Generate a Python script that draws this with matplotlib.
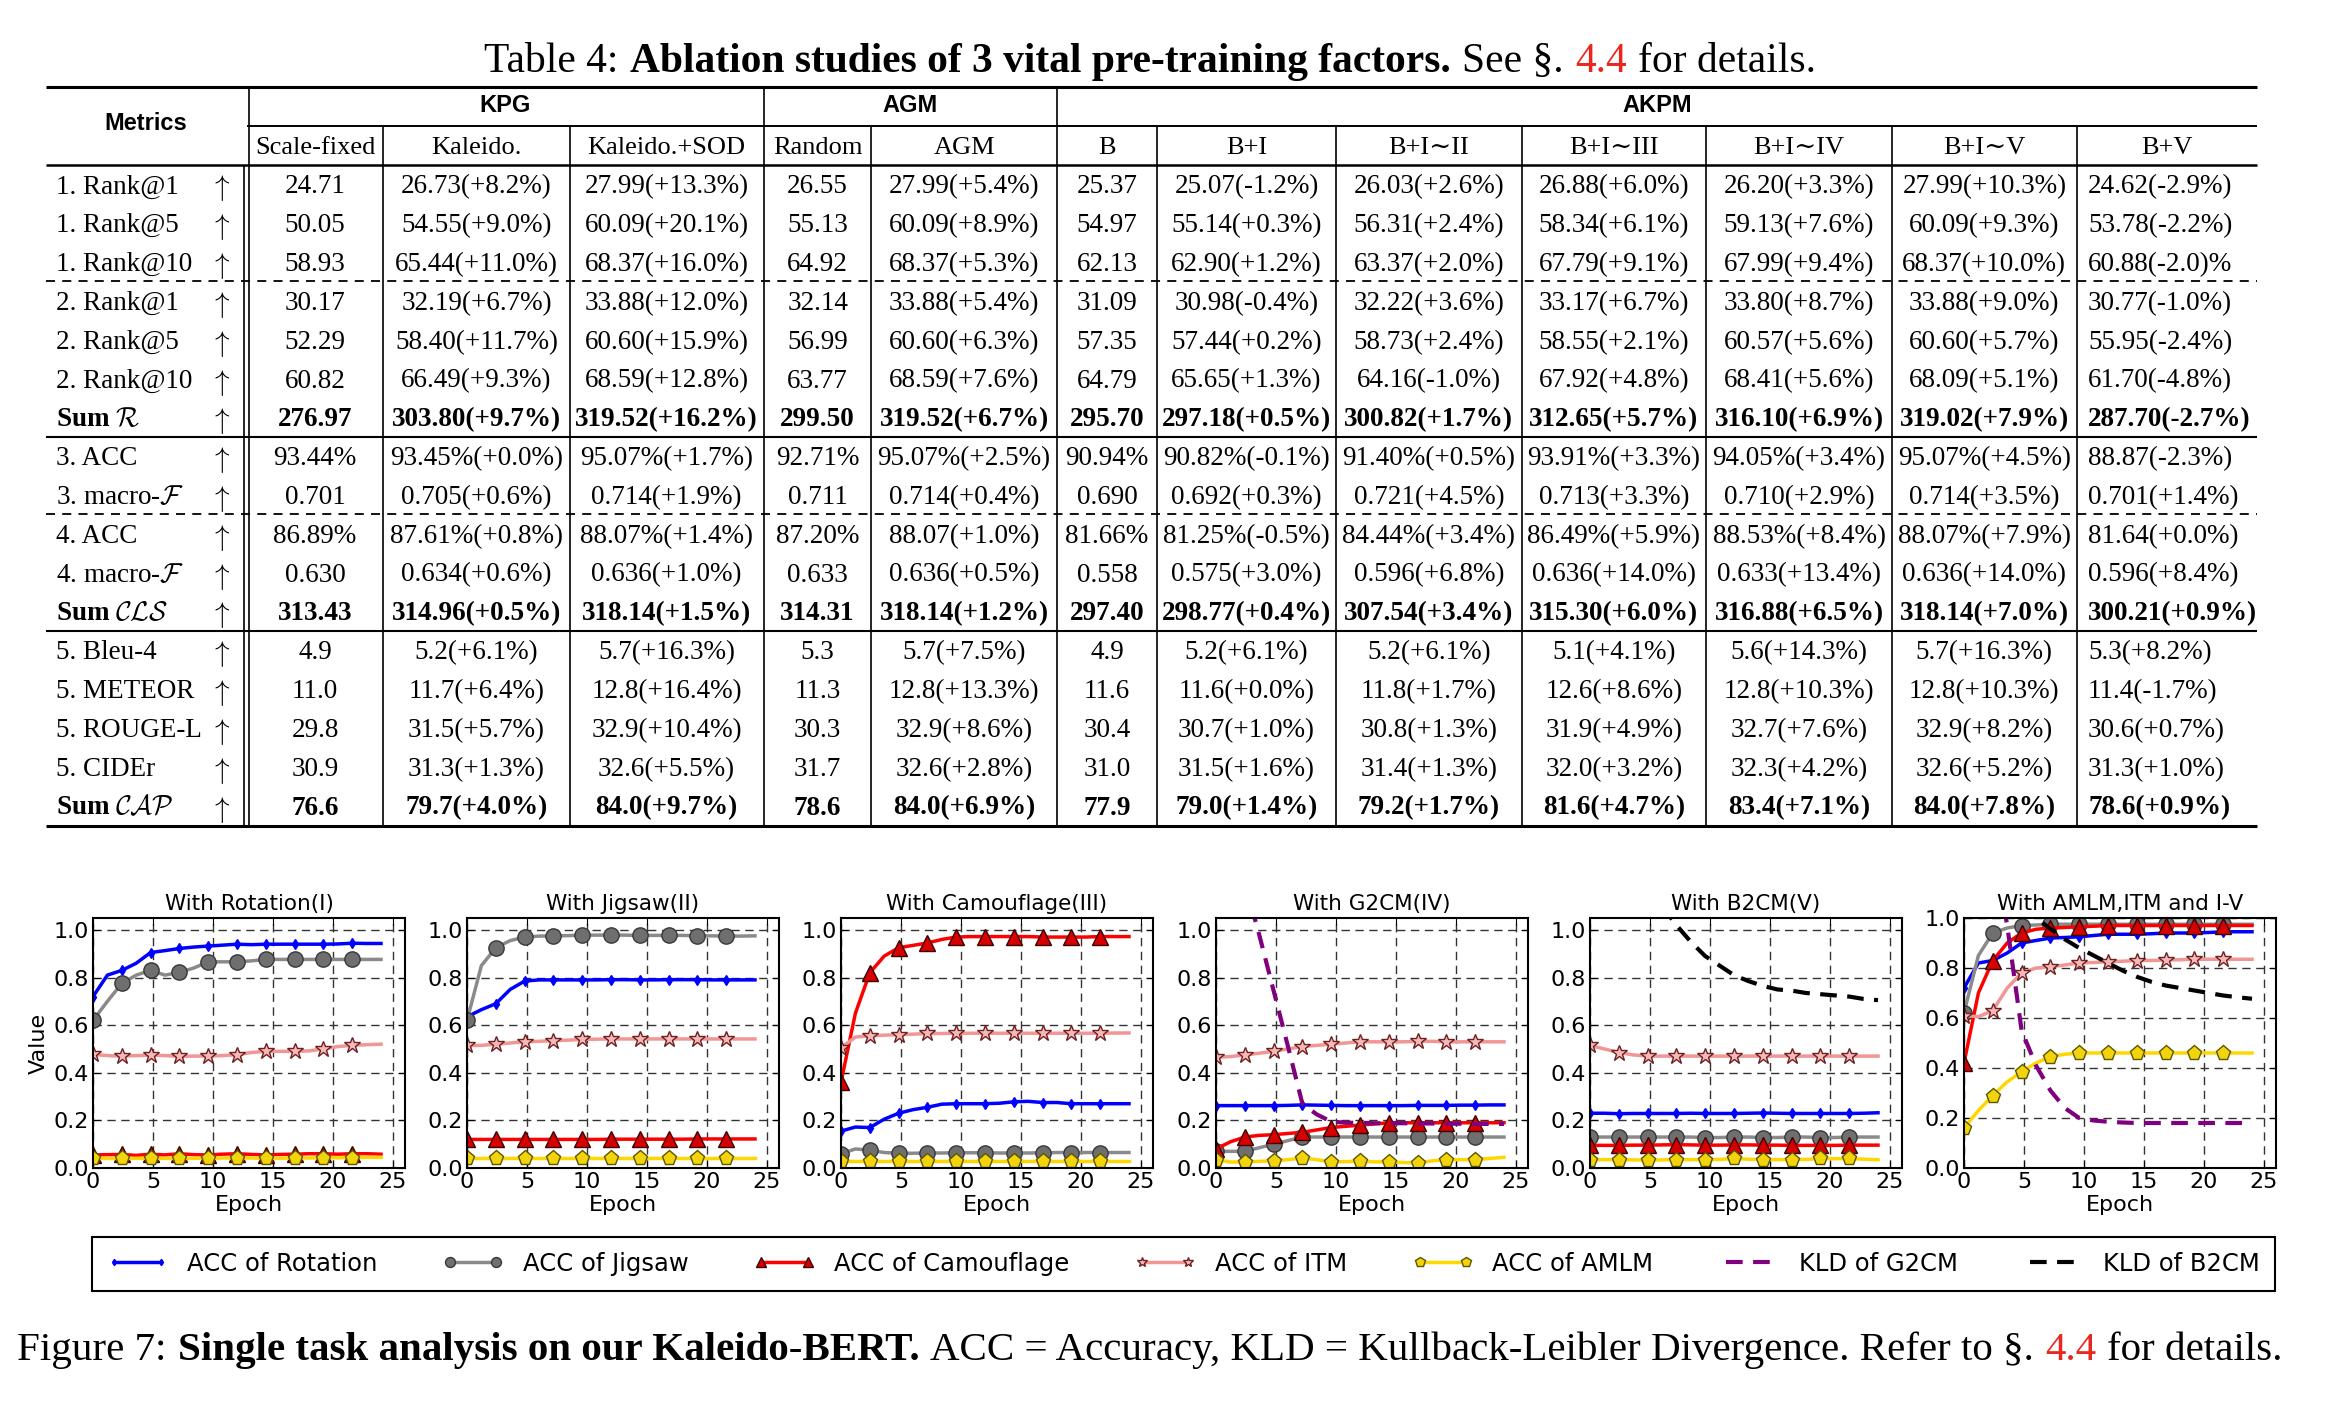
import numpy as np
import matplotlib
matplotlib.use("Agg")
import matplotlib.pyplot as plt
from matplotlib.lines import Line2D

plt.rcParams["mathtext.fontset"] = "cm"

W, H = 2332, 1412
SERIF = ["Liberation Serif", "DejaVu Serif"]
SANS = ["Liberation Sans", "DejaVu Sans"]
RED_REF = "#e8281e"

# ---------------- table data ----------------
group_names = ["KPG", "AGM", "AKPM"]
group_spans = [3, 2, 7]
sub_headers = ["Scale-fixed", "Kaleido.", "Kaleido.+SOD", "Random", "AGM", "B", "B+I",
               "B+I∼II", "B+I∼III", "B+I∼IV", "B+I∼V", "B+V"]
row_labels = ["1. Rank@1", "1. Rank@5", "1. Rank@10", "2. Rank@1", "2. Rank@5", "2. Rank@10",
              r"Sum $\mathcal{R}$", "3. ACC", r"3. macro-$\mathcal{F}$", "4. ACC",
              r"4. macro-$\mathcal{F}$", r"Sum $\mathcal{CLS}$", "5. Bleu-4", "5. METEOR",
              "5. ROUGE-L", "5. CIDEr", r"Sum $\mathcal{CAP}$"]
bold_rows = [6, 11, 16]

r1_rank1 = ["24.71", "26.73(+8.2%)", "27.99(+13.3%)", "26.55", "27.99(+5.4%)", "25.37", "25.07(-1.2%)",
            "26.03(+2.6%)", "26.88(+6.0%)", "26.20(+3.3%)", "27.99(+10.3%)", "24.62(-2.9%)"]
r1_rank5 = ["50.05", "54.55(+9.0%)", "60.09(+20.1%)", "55.13", "60.09(+8.9%)", "54.97", "55.14(+0.3%)",
            "56.31(+2.4%)", "58.34(+6.1%)", "59.13(+7.6%)", "60.09(+9.3%)", "53.78(-2.2%)"]
r1_rank10 = ["58.93", "65.44(+11.0%)", "68.37(+16.0%)", "64.92", "68.37(+5.3%)", "62.13", "62.90(+1.2%)",
             "63.37(+2.0%)", "67.79(+9.1%)", "67.99(+9.4%)", "68.37(+10.0%)", "60.88(-2.0)%"]
r2_rank1 = ["30.17", "32.19(+6.7%)", "33.88(+12.0%)", "32.14", "33.88(+5.4%)", "31.09", "30.98(-0.4%)",
            "32.22(+3.6%)", "33.17(+6.7%)", "33.80(+8.7%)", "33.88(+9.0%)", "30.77(-1.0%)"]
r2_rank5 = ["52.29", "58.40(+11.7%)", "60.60(+15.9%)", "56.99", "60.60(+6.3%)", "57.35", "57.44(+0.2%)",
            "58.73(+2.4%)", "58.55(+2.1%)", "60.57(+5.6%)", "60.60(+5.7%)", "55.95(-2.4%)"]
r2_rank10 = ["60.82", "66.49(+9.3%)", "68.59(+12.8%)", "63.77", "68.59(+7.6%)", "64.79", "65.65(+1.3%)",
             "64.16(-1.0%)", "67.92(+4.8%)", "68.41(+5.6%)", "68.09(+5.1%)", "61.70(-4.8%)"]
sum_r = ["276.97", "303.80(+9.7%)", "319.52(+16.2%)", "299.50", "319.52(+6.7%)", "295.70", "297.18(+0.5%)",
         "300.82(+1.7%)", "312.65(+5.7%)", "316.10(+6.9%)", "319.02(+7.9%)", "287.70(-2.7%)"]
acc3 = ["93.44%", "93.45%(+0.0%)", "95.07%(+1.7%)", "92.71%", "95.07%(+2.5%)", "90.94%", "90.82%(-0.1%)",
        "91.40%(+0.5%)", "93.91%(+3.3%)", "94.05%(+3.4%)", "95.07%(+4.5%)", "88.87(-2.3%)"]
f3 = ["0.701", "0.705(+0.6%)", "0.714(+1.9%)", "0.711", "0.714(+0.4%)", "0.690", "0.692(+0.3%)",
      "0.721(+4.5%)", "0.713(+3.3%)", "0.710(+2.9%)", "0.714(+3.5%)", "0.701(+1.4%)"]
acc4 = ["86.89%", "87.61%(+0.8%)", "88.07%(+1.4%)", "87.20%", "88.07(+1.0%)", "81.66%", "81.25%(-0.5%)",
        "84.44%(+3.4%)", "86.49%(+5.9%)", "88.53%(+8.4%)", "88.07%(+7.9%)", "81.64(+0.0%)"]
f4 = ["0.630", "0.634(+0.6%)", "0.636(+1.0%)", "0.633", "0.636(+0.5%)", "0.558", "0.575(+3.0%)",
      "0.596(+6.8%)", "0.636(+14.0%)", "0.633(+13.4%)", "0.636(+14.0%)", "0.596(+8.4%)"]
sum_cls = ["313.43", "314.96(+0.5%)", "318.14(+1.5%)", "314.31", "318.14(+1.2%)", "297.40", "298.77(+0.4%)",
           "307.54(+3.4%)", "315.30(+6.0%)", "316.88(+6.5%)", "318.14(+7.0%)", "300.21(+0.9%)"]
bleu = ["4.9", "5.2(+6.1%)", "5.7(+16.3%)", "5.3", "5.7(+7.5%)", "4.9", "5.2(+6.1%)",
        "5.2(+6.1%)", "5.1(+4.1%)", "5.6(+14.3%)", "5.7(+16.3%)", "5.3(+8.2%)"]
meteor = ["11.0", "11.7(+6.4%)", "12.8(+16.4%)", "11.3", "12.8(+13.3%)", "11.6", "11.6(+0.0%)",
          "11.8(+1.7%)", "12.6(+8.6%)", "12.8(+10.3%)", "12.8(+10.3%)", "11.4(-1.7%)"]
rouge = ["29.8", "31.5(+5.7%)", "32.9(+10.4%)", "30.3", "32.9(+8.6%)", "30.4", "30.7(+1.0%)",
         "30.8(+1.3%)", "31.9(+4.9%)", "32.7(+7.6%)", "32.9(+8.2%)", "30.6(+0.7%)"]
cider = ["30.9", "31.3(+1.3%)", "32.6(+5.5%)", "31.7", "32.6(+2.8%)", "31.0", "31.5(+1.6%)",
         "31.4(+1.3%)", "32.0(+3.2%)", "32.3(+4.2%)", "32.6(+5.2%)", "31.3(+1.0%)"]
sum_cap = ["76.6", "79.7(+4.0%)", "84.0(+9.7%)", "78.6", "84.0(+6.9%)", "77.9", "79.0(+1.4%)",
           "79.2(+1.7%)", "81.6(+4.7%)", "83.4(+7.1%)", "84.0(+7.8%)", "78.6(+0.9%)"]
table_rows = [r1_rank1, r1_rank5, r1_rank10, r2_rank1, r2_rank5, r2_rank10, sum_r,
              acc3, f3, acc4, f4, sum_cls, bleu, meteor, rouge, cider, sum_cap]

# ---------------- curve data ----------------
epochs = [0.0, 1.2, 2.4, 3.6, 4.8, 6.0, 7.2, 8.4, 9.6, 10.8, 12.0, 13.2, 14.4, 15.6, 16.8,
          18.0, 19.2, 20.4, 21.6, 22.8, 24.0]
nan = np.nan

p1_rot = [0.72, 0.81, 0.83, 0.86, 0.905, 0.913, 0.922, 0.928, 0.932, 0.936, 0.940, 0.938, 0.940, 0.940,
          0.940, 0.940, 0.940, 0.941, 0.944, 0.943, 0.943]
p1_jig = [0.62, 0.70, 0.775, 0.81, 0.83, 0.81, 0.822, 0.84, 0.866, 0.866, 0.866, 0.870, 0.876, 0.876,
          0.876, 0.876, 0.876, 0.876, 0.876, 0.876, 0.876]
p1_cam = [0.055, 0.056, 0.057, 0.053, 0.058, 0.055, 0.060, 0.056, 0.055, 0.058, 0.060, 0.057, 0.055,
          0.057, 0.058, 0.060, 0.060, 0.058, 0.060, 0.060, 0.058]
p1_itm = [0.477, 0.472, 0.470, 0.472, 0.474, 0.472, 0.469, 0.470, 0.470, 0.472, 0.476, 0.485, 0.490,
          0.490, 0.490, 0.492, 0.500, 0.510, 0.515, 0.518, 0.520]
p1_aml = [0.040, 0.040, 0.040, 0.041, 0.040, 0.040, 0.040, 0.041, 0.040, 0.042, 0.042, 0.042, 0.040,
          0.041, 0.042, 0.042, 0.043, 0.043, 0.044, 0.045, 0.045]

p2_rot = [0.635, 0.665, 0.69, 0.75, 0.785, 0.79, 0.79, 0.79, 0.79, 0.79, 0.791, 0.791, 0.79, 0.79,
          0.791, 0.791, 0.791, 0.79, 0.79, 0.79, 0.79]
p2_jig = [0.62, 0.85, 0.925, 0.955, 0.970, 0.974, 0.975, 0.976, 0.978, 0.978, 0.978, 0.978, 0.977,
          0.977, 0.977, 0.977, 0.975, 0.975, 0.974, 0.974, 0.975]
p2_cam = [0.120, 0.120, 0.120, 0.120, 0.120, 0.120, 0.120, 0.120, 0.120, 0.120, 0.121, 0.121, 0.121,
          0.121, 0.121, 0.121, 0.122, 0.122, 0.122, 0.122, 0.122]
p2_itm = [0.515, 0.515, 0.520, 0.525, 0.530, 0.532, 0.535, 0.537, 0.540, 0.541, 0.542, 0.542, 0.542,
          0.542, 0.542, 0.542, 0.542, 0.542, 0.542, 0.542, 0.542]
p2_aml = [0.040, 0.040, 0.040, 0.040, 0.040, 0.040, 0.040, 0.040, 0.040, 0.040, 0.040, 0.040, 0.040,
          0.040, 0.040, 0.040, 0.040, 0.040, 0.040, 0.040, 0.040]

p3_rot = [0.155, 0.172, 0.170, 0.205, 0.230, 0.245, 0.255, 0.268, 0.270, 0.270, 0.270, 0.272, 0.278,
          0.280, 0.275, 0.275, 0.270, 0.270, 0.270, 0.270, 0.270]
p3_jig = [0.060, 0.080, 0.075, 0.065, 0.062, 0.062, 0.063, 0.063, 0.064, 0.064, 0.064, 0.063, 0.063,
          0.063, 0.064, 0.065, 0.065, 0.065, 0.065, 0.065, 0.065]
p3_cam = [0.36, 0.65, 0.82, 0.89, 0.925, 0.935, 0.945, 0.960, 0.970, 0.972, 0.972, 0.972, 0.972,
          0.972, 0.970, 0.970, 0.970, 0.970, 0.972, 0.972, 0.972]
p3_itm = [0.505, 0.550, 0.555, 0.558, 0.560, 0.562, 0.565, 0.565, 0.566, 0.566, 0.566, 0.566, 0.566,
          0.566, 0.566, 0.566, 0.566, 0.566, 0.566, 0.567, 0.567]
p3_aml = [0.028, 0.028, 0.028, 0.028, 0.028, 0.028, 0.028, 0.028, 0.028, 0.028, 0.028, 0.028, 0.028,
          0.028, 0.028, 0.028, 0.028, 0.028, 0.028, 0.028, 0.028]

p4_rot = [0.262, 0.262, 0.262, 0.262, 0.262, 0.263, 0.265, 0.264, 0.263, 0.262, 0.262, 0.262, 0.262,
          0.262, 0.263, 0.263, 0.263, 0.264, 0.264, 0.265, 0.265]
p4_jig = [0.070, 0.070, 0.070, 0.085, 0.100, 0.115, 0.130, 0.130, 0.130, 0.130, 0.130, 0.130, 0.130,
          0.130, 0.130, 0.130, 0.130, 0.130, 0.130, 0.130, 0.130]
p4_cam = [0.080, 0.110, 0.130, 0.137, 0.140, 0.145, 0.150, 0.160, 0.170, 0.175, 0.180, 0.185, 0.190,
          0.190, 0.190, 0.190, 0.190, 0.190, 0.190, 0.190, 0.190]
p4_itm = [0.465, 0.468, 0.475, 0.482, 0.490, 0.500, 0.510, 0.515, 0.520, 0.525, 0.530, 0.530, 0.530,
          0.530, 0.532, 0.532, 0.530, 0.530, 0.530, 0.530, 0.530]
p4_aml = [0.035, 0.025, 0.025, 0.028, 0.030, 0.035, 0.042, 0.035, 0.025, 0.027, 0.028, 0.026, 0.025,
          0.023, 0.020, 0.030, 0.035, 0.035, 0.035, 0.040, 0.045]
p4_g2cm = [1.65, 1.42, 1.20, 0.98, 0.745, 0.51, 0.27, 0.225, 0.195, 0.190, 0.190, 0.188, 0.188,
           0.188, 0.187, 0.187, 0.186, 0.186, 0.185, 0.185, 0.185]

p5_rot = [0.230, 0.230, 0.228, 0.229, 0.229, 0.229, 0.229, 0.230, 0.229, 0.229, 0.229, 0.230, 0.231,
          0.230, 0.229, 0.229, 0.229, 0.229, 0.229, 0.230, 0.232]
p5_jig = [0.130, 0.130, 0.130, 0.130, 0.130, 0.130, 0.130, 0.130, 0.128, 0.128, 0.130, 0.130, 0.128,
          0.128, 0.130, 0.130, 0.128, 0.128, 0.130, 0.130, 0.130]
p5_cam = [0.095, 0.095, 0.095, 0.096, 0.096, 0.097, 0.098, 0.097, 0.096, 0.096, 0.097, 0.097, 0.096,
          0.096, 0.095, 0.095, 0.095, 0.095, 0.096, 0.096, 0.096]
p5_itm = [0.515, 0.500, 0.485, 0.475, 0.470, 0.470, 0.470, 0.470, 0.470, 0.470, 0.470, 0.470, 0.470,
          0.470, 0.470, 0.470, 0.470, 0.470, 0.470, 0.470, 0.470]
p5_aml = [0.035, 0.035, 0.035, 0.034, 0.033, 0.034, 0.035, 0.035, 0.035, 0.036, 0.040, 0.037, 0.035,
          0.035, 0.035, 0.036, 0.040, 0.039, 0.040, 0.037, 0.035]
p5_b2cm = [nan, nan, nan, nan, nan, 1.10, 1.02, 0.95, 0.89, 0.85, 0.81, 0.785, 0.765, 0.75, 0.745,
           0.735, 0.73, 0.725, 0.72, 0.71, 0.705]

p6_rot = [0.72, 0.82, 0.83, 0.86, 0.90, 0.91, 0.92, 0.922, 0.925, 0.93, 0.935, 0.935, 0.935, 0.937,
          0.94, 0.94, 0.94, 0.942, 0.945, 0.945, 0.945]
p6_jig = [0.62, 0.85, 0.94, 0.96, 0.97, 0.972, 0.975, 0.975, 0.975, 0.975, 0.975, 0.975, 0.975, 0.975,
          0.975, 0.975, 0.975, 0.975, 0.975, 0.975, 0.975]
p6_cam = [0.42, 0.70, 0.83, 0.90, 0.94, 0.955, 0.96, 0.962, 0.965, 0.967, 0.97, 0.97, 0.97, 0.97,
          0.97, 0.97, 0.97, 0.97, 0.97, 0.97, 0.97]
p6_itm = [0.61, 0.605, 0.63, 0.72, 0.78, 0.80, 0.805, 0.812, 0.82, 0.822, 0.825, 0.827, 0.83, 0.83,
          0.832, 0.833, 0.835, 0.835, 0.835, 0.835, 0.835]
p6_aml = [0.16, 0.23, 0.29, 0.345, 0.385, 0.42, 0.445, 0.455, 0.46, 0.46, 0.46, 0.46, 0.46, 0.46,
          0.46, 0.46, 0.46, 0.46, 0.46, 0.46, 0.46]
p6_g2cm = [1.90, 1.60, 1.30, 0.97, 0.55, 0.41, 0.31, 0.24, 0.20, 0.19, 0.185, 0.182, 0.18, 0.18,
           0.18, 0.18, 0.18, 0.18, 0.18, 0.18, 0.18]
p6_b2cm = [nan, nan, nan, nan, 1.05, 1.00, 0.957, 0.915, 0.88, 0.85, 0.82, 0.79, 0.765, 0.745, 0.73,
           0.72, 0.71, 0.70, 0.69, 0.683, 0.677]

panel_titles = ["With Rotation(I)", "With Jigsaw(II)", "With Camouflage(III)", "With G2CM(IV)",
                "With B2CM(V)", "With AMLM,ITM and I-V"]
panels = [
    {"rot": p1_rot, "jig": p1_jig, "cam": p1_cam, "itm": p1_itm, "aml": p1_aml},
    {"rot": p2_rot, "jig": p2_jig, "cam": p2_cam, "itm": p2_itm, "aml": p2_aml},
    {"rot": p3_rot, "jig": p3_jig, "cam": p3_cam, "itm": p3_itm, "aml": p3_aml},
    {"rot": p4_rot, "jig": p4_jig, "cam": p4_cam, "itm": p4_itm, "aml": p4_aml, "g2cm": p4_g2cm},
    {"rot": p5_rot, "jig": p5_jig, "cam": p5_cam, "itm": p5_itm, "aml": p5_aml, "b2cm": p5_b2cm},
    {"rot": p6_rot, "jig": p6_jig, "cam": p6_cam, "itm": p6_itm, "aml": p6_aml, "g2cm": p6_g2cm,
     "b2cm": p6_b2cm},
]
series_order = ["rot", "jig", "cam", "itm", "aml", "g2cm", "b2cm"]
series_labels = {"rot": "ACC of Rotation", "jig": "ACC of Jigsaw", "cam": "ACC of Camouflage",
                 "itm": "ACC of ITM", "aml": "ACC of AMLM", "g2cm": "KLD of G2CM", "b2cm": "KLD of B2CM"}

styles = {
    "rot": dict(color="#0000ff", lw=2.5, marker="d", ms=5, mfc="#0000ff", mec="#0000ff"),
    "jig": dict(color="#8a8a8a", lw=2.5, marker="o", ms=11, mfc="#6f6f6f", mec="#383838"),
    "cam": dict(color="#ff0000", lw=2.5, marker="^", ms=11, mfc="#d60000", mec="#3a0000"),
    "itm": dict(color="#f19595", lw=2.5, marker="*", ms=12, mfc="#f6b8b8", mec="#6e2020", mew=1),
    "aml": dict(color="#ffd700", lw=2.5, marker="p", ms=11, mfc="#f2d40c", mec="#5c5600"),
    "g2cm": dict(color="#800080", lw=3, ls=(0, (4, 2.5))),
    "b2cm": dict(color="black", lw=3, ls=(0, (4, 2.5))),
}

# ---------------- figure ----------------
fig = plt.figure(figsize=(W / 100, H / 100), dpi=100)
cv = fig.add_axes([0, 0, 1, 1])
cv.set_xlim(0, W)
cv.set_ylim(H, 0)
cv.axis("off")
renderer = fig.canvas.get_renderer()


def rich_line(pieces, cx, base_y, target_w, size0):
    # pieces: (text, weight, colour); spaces between pieces added explicitly
    arts = [cv.text(0, base_y, s, fontsize=size0, fontweight=wt, color=c, family=SERIF,
                    va="baseline", ha="left") for s, wt, c in pieces]

    def widths(sz):
        return [a.get_window_extent(renderer).width for a in arts], 0.27 * sz * 100 / 72

    ws, sp = widths(size0)
    size = size0 * target_w / (sum(ws) + sp * (len(arts) - 1))
    for a in arts:
        a.set_fontsize(size)
    ws, sp = widths(size)
    x = cx - (sum(ws) + sp * (len(arts) - 1)) / 2
    for a, w_ in zip(arts, ws):
        a.set_x(x)
        x += w_ + sp


# table caption
rich_line([("Table 4:", "normal", "black"),
           ("Ablation studies of 3 vital pre-training factors.", "bold", "black"),
           ("See §.", "normal", "black"), ("4.4", "normal", RED_REF),
           ("for details.", "normal", "black")], 1150, 72, 1334, 26)

# table geometry (pixels)
bounds = [246.5, 383.4, 569.5, 763.8, 871.4, 1056.8, 1157, 1336, 1521.7, 1706.3, 1891.7, 2077, 2257]
t_left, t_right = 46, 2257
y_top, y_grp, y_head, y_bot = 87, 126, 165, 826
row0, row_step = 184.4, 38.82
row_y = [row0 + row_step * i for i in range(len(row_labels))]

cv.hlines([y_top, y_bot], t_left, t_right, color="black", lw=2.2)
cv.hlines(y_head, t_left, t_right, color="black", lw=1.8)
cv.hlines(y_grp, bounds[0], t_right, color="black", lw=1.4)
for i in (6, 11):
    cv.hlines((row_y[i] + row_y[i + 1]) / 2, t_left, t_right, color="black", lw=1.5)
for i in (2, 8):
    cv.hlines((row_y[i] + row_y[i + 1]) / 2, t_left, t_right, color="black", lw=1.3,
              linestyles=(0, (5, 4)))
cv.vlines([bounds[0] + 2, bounds[3], bounds[5]], y_top, y_bot, color="black", lw=1.2)
cv.vlines([bounds[0] - 3], y_head, y_bot, color="black", lw=1.2)
cv.vlines([bounds[j] for j in (1, 2, 4, 6, 7, 8, 9, 10, 11)], y_grp, y_bot, color="black", lw=1.2)

cv.text((t_left + bounds[0]) / 2, 124, "Metrics", family=SANS, fontweight="bold", fontsize=17,
        ha="center", va="center")
start = 0
for name, span in zip(group_names, group_spans):
    cv.text((bounds[start] + bounds[start + span]) / 2, 106, name, family=SANS, fontweight="bold",
            fontsize=17, ha="center", va="center")
    start += span
centers = [(bounds[j] + bounds[j + 1]) / 2 for j in range(12)]
for j, lab in enumerate(sub_headers):
    cv.text(centers[j], 145 + 9, lab, family=SERIF, fontsize=19, ha="center", va="baseline")

for i, (lab, vals) in enumerate(zip(row_labels, table_rows)):
    wt = "bold" if i in bold_rows else "normal"
    yb = row_y[i] + 9
    cv.text(56, yb, lab, family=SERIF, fontsize=19.5, fontweight=wt, ha="left", va="baseline")
    cv.text(220, yb + 2, r"$\uparrow$", fontsize=21, ha="center", va="baseline")
    for j, v in enumerate(vals):
        if j == 11:
            cv.text(bounds[11] + 11, yb, v, family=SERIF, fontsize=19.5, fontweight=wt,
                    ha="left", va="baseline")
        else:
            cv.text(centers[j], yb, v, family=SERIF, fontsize=19.5, fontweight=wt,
                    ha="center", va="baseline")

# ---------------- curves ----------------
ax_lefts = [93, 467, 841, 1216, 1590, 1964]
ax_w, ax_top, ax_bottom = 312, 918, 1168
marks = list(range(0, 19, 2))
for k, (left, title, data) in enumerate(zip(ax_lefts, panel_titles, panels)):
    ax = fig.add_axes([left / W, 1 - ax_bottom / H, ax_w / W, (ax_bottom - ax_top) / H])
    for key in series_order:
        if key in data:
            st = dict(styles[key])
            if "marker" in st:
                st["markevery"] = marks
            ax.plot(epochs, data[key], **st)
    ax.set_xlim(0, 26)
    ax.set_ylim(0, 1.0 if k == 5 else 1.05)
    ax.set_xticks([0, 5, 10, 15, 20, 25])
    ax.set_yticks([0.0, 0.2, 0.4, 0.6, 0.8, 1.0])
    ax.grid(True, color="#333333", ls=(0, (6, 4)), lw=1.0)
    ax.tick_params(direction="in", length=5, top=True, right=True, labelsize=16, pad=3)
    for sp in ax.spines.values():
        sp.set_linewidth(1.5)
    ax.set_title(title, fontsize=15.5, pad=6)
    ax.set_xlabel("Epoch", fontsize=16, labelpad=2)
    if k == 0:
        ax.set_ylabel("Value", fontsize=16, labelpad=3)

handles = []
for key in series_order:
    st = dict(styles[key])
    if "ms" in st:
        st["ms"] = st["ms"] * 0.65
    handles.append(Line2D([], [], **st))
leg = fig.legend(handles, [series_labels[k] for k in series_order], loc="center", ncol=7,
                 bbox_to_anchor=(92 / W, 1 - 1291 / H, 2183 / W, 54 / H), mode="expand",
                 numpoints=2, handlelength=2.5, fontsize=17.5, frameon=True, fancybox=False,
                 edgecolor="black", borderaxespad=0, borderpad=0.62, framealpha=1)
leg.get_frame().set_linewidth(1.5)

# figure caption
rich_line([("Figure 7:", "normal", "black"),
           ("Single task analysis on our Kaleido-BERT.", "bold", "black"),
           ("ACC = Accuracy, KLD = Kullback-Leibler Divergence. Refer to §.", "normal", "black"),
           ("4.4", "normal", RED_REF), ("for details.", "normal", "black")], 1150, 1360, 2271, 26)

fig.savefig("out.png", dpi=100)
